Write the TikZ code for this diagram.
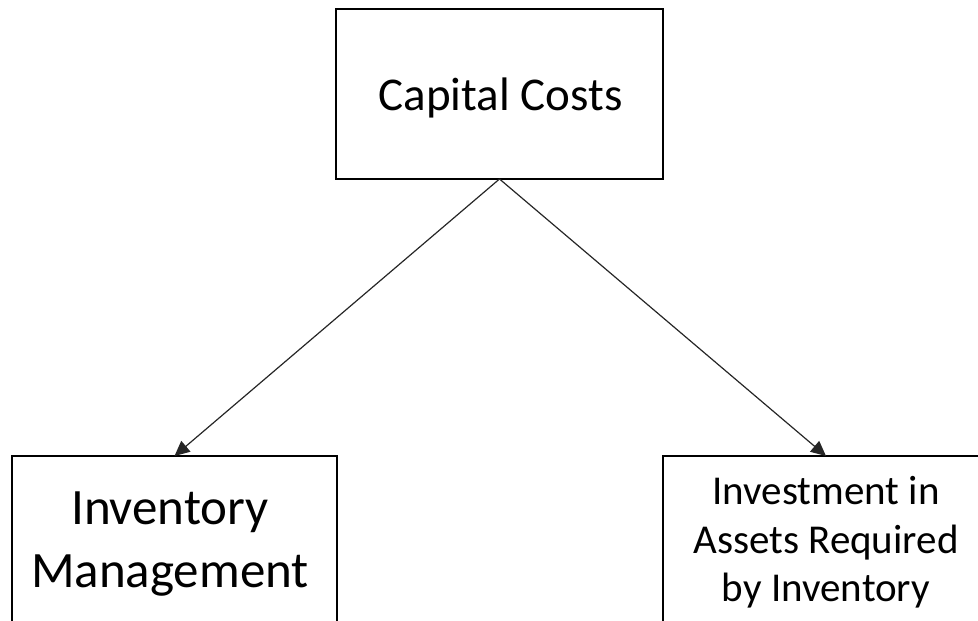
\documentclass[tikz,border=0pt]{standalone}
\usepackage{fontspec}
\setmainfont{Carlito}
\usetikzlibrary{arrows.meta}
\begin{document}
\begin{tikzpicture}[x=1pt,y=1pt,
  box/.style={draw=black, line width=2pt, inner sep=0pt, outer sep=0pt},
  link/.style={draw=black!85, line width=1.2pt, -{Triangle[length=15pt,width=14pt]}},
  txt/.style={align=center, inner sep=0pt, text=black}]
\useasboundingbox (0,0) rectangle (978,621);
\clip (0,0) rectangle (978,621);
% boxes (the two lower ones run past the lower and right edges)
\node[box, minimum width=327pt, minimum height=170pt] (top) at (499.5,527) {};
\node[box, minimum width=325pt, minimum height=220pt] (left) at (174.5,55) {};
\node[box, minimum width=326pt, minimum height=220pt] (right) at (826,55) {};
% labels
\node[txt, font=\fontsize{47}{57}\selectfont] (toptxt) at (500.5,523) {Capital Costs};
\node[txt, font=\fontsize{51}{63}\selectfont] (lefttxt) at (170,77) {Inventory\\Management};
\node[txt, font=\fontsize{41}{48.5}\selectfont] (righttxt) at (826,78.7) {Investment in\\Assets Required\\by Inventory};
% connectors
\draw[link] (top.south) -- (left.north);
\draw[link] (top.south) -- (right.north);
\end{tikzpicture}
\end{document}
